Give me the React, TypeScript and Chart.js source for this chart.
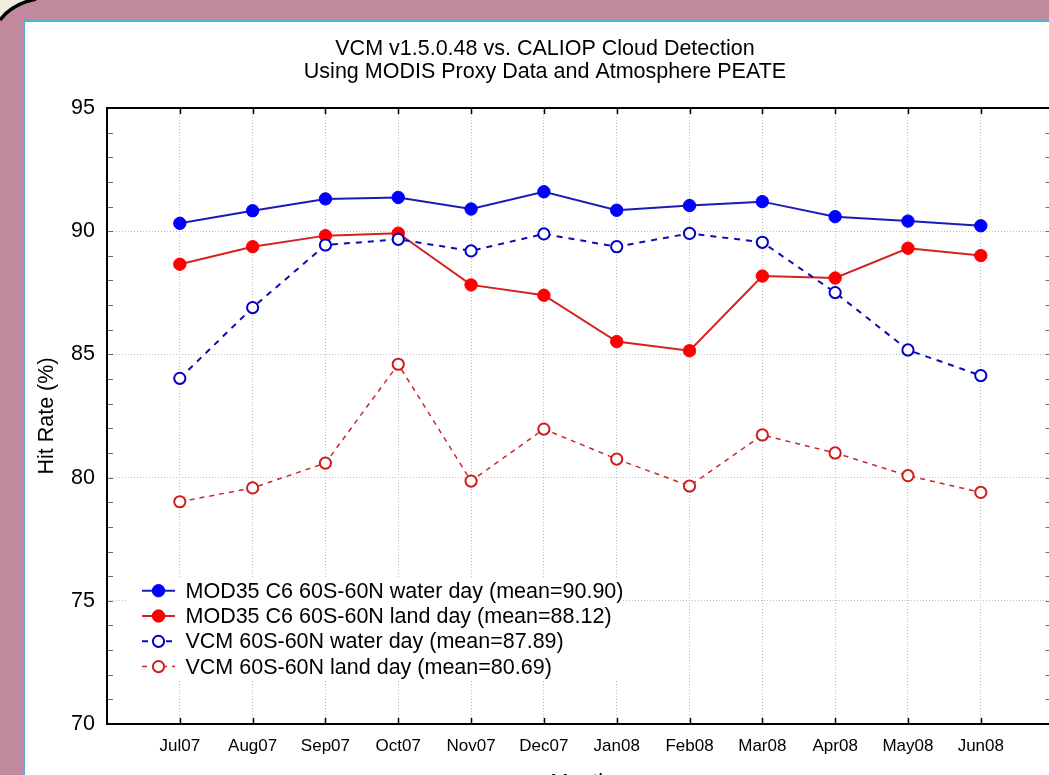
import React, { useEffect, useRef } from "react";
import { Chart, registerables } from "chart.js";

Chart.register(...registerables);

const months = ["Jul07", "Aug07", "Sep07", "Oct07", "Nov07", "Dec07", "Jan08", "Feb08", "Mar08", "Apr08", "May08", "Jun08"];
const mod35Water = [90.32, 90.83, 91.31, 91.37, 90.9, 91.6, 90.85, 91.04, 91.2, 90.59, 90.41, 90.22];
const mod35Land = [88.66, 89.37, 89.82, 89.92, 87.82, 87.4, 85.52, 85.15, 88.18, 88.1, 89.31, 89.01];
const vcmWater = [84.03, 86.9, 89.44, 89.67, 89.2, 89.89, 89.37, 89.91, 89.55, 87.51, 85.18, 84.14];
const vcmLand = [79.02, 79.58, 80.59, 84.6, 79.86, 81.97, 80.75, 79.66, 81.73, 81.0, 80.08, 79.4];
const seriesNames = [
  "MOD35 C6 60S-60N water day (mean=90.90)",
  "MOD35 C6 60S-60N land day (mean=88.12)",
  "VCM 60S-60N water day (mean=87.89)",
  "VCM 60S-60N land day (mean=80.69)",
];
const yTicks = [70, 75, 80, 85, 90, 95];
const titleLines = ["VCM v1.5.0.48 vs. CALIOP Cloud Detection", "Using MODIS Proxy Data and Atmosphere PEATE"];
const xTitle = "Month";
const yTitle = "Hit Rate (%)";

const FONT = "'Liberation Sans', Arial, sans-serif";

const toPoints = (vals: number[]) => vals.map((v, i) => ({ x: i, y: v }));

const framePlugin = {
  id: "frameTicks",
  beforeDatasetsDraw(chart: any) {
    const { ctx, chartArea: a, scales } = chart;
    const x = scales.x;
    const y = scales.y;
    ctx.save();
    ctx.strokeStyle = "#000";
    ctx.lineWidth = 1.5;
    months.forEach((_, i) => {
      const px = Math.round(x.getPixelForValue(i)) + 0.5;
      ctx.beginPath();
      ctx.moveTo(px, a.top);
      ctx.lineTo(px, a.top + 6);
      ctx.moveTo(px, a.bottom);
      ctx.lineTo(px, a.bottom - 6);
      ctx.stroke();
    });
    ctx.strokeStyle = "#6a6a6a";
    ctx.lineWidth = 1;
    const lo = yTicks[0];
    const hi = yTicks[yTicks.length - 1];
    for (let v = lo + 1; v < hi; v++) {
      const py = Math.round(y.getPixelForValue(v)) + 0.5;
      ctx.beginPath();
      ctx.moveTo(a.left, py);
      ctx.lineTo(a.left + 6, py);
      ctx.moveTo(a.right - 8, py);
      ctx.lineTo(a.right, py);
      ctx.stroke();
    }
    ctx.restore();
  },
  afterDatasetsDraw(chart: any) {
    const { ctx, chartArea: a } = chart;
    ctx.save();
    const lx = a.left + 21;
    const ly = a.top + 469;
    ctx.fillStyle = "#fff";
    ctx.fillRect(lx, ly, 495, 104);
    const row0 = a.top + 482.7;
    const rowH = 25.3;
    chart.data.datasets.forEach((ds: any, i: number) => {
      const cy = row0 + i * rowH;
      const x0 = a.left + 35;
      const x1 = a.left + 68;
      const mx = a.left + 51.5;
      ctx.save();
      ctx.strokeStyle = ds.borderColor;
      ctx.lineWidth = ds.borderWidth;
      ctx.setLineDash(ds.borderDash || []);
      ctx.beginPath();
      ctx.moveTo(x0, cy);
      ctx.lineTo(x1, cy);
      ctx.stroke();
      ctx.setLineDash([]);
      ctx.beginPath();
      ctx.arc(mx, cy, ds.pointRadius, 0, Math.PI * 2);
      ctx.fillStyle = ds.pointBackgroundColor;
      ctx.fill();
      ctx.lineWidth = ds.pointBorderWidth;
      ctx.strokeStyle = ds.pointBorderColor;
      ctx.stroke();
      ctx.restore();
      ctx.fillStyle = "#000";
      ctx.font = `21.5px ${FONT}`;
      ctx.textAlign = "left";
      ctx.textBaseline = "middle";
      ctx.fillText(seriesNames[i], a.left + 78.5, cy + 1);
    });
    ctx.restore();
  },
  afterDraw(chart: any) {
    const { ctx, chartArea: a } = chart;
    ctx.save();
    ctx.strokeStyle = "#000";
    ctx.lineWidth = 2;
    ctx.strokeRect(a.left, a.top, a.right - a.left, a.bottom - a.top);
    ctx.restore();
  },
};

export default function App() {
  const ref = useRef<HTMLCanvasElement | null>(null);

  useEffect(() => {
    if (!ref.current) return;
    const chart = new Chart(ref.current, {
      type: "line",
      data: {
        datasets: [
          {
            label: seriesNames[0],
            data: toPoints(mod35Water),
            borderColor: "#1c1cb4",
            borderWidth: 2,
            pointRadius: 6.2,
            pointBackgroundColor: "#0000ff",
            pointBorderColor: "#0000ff",
            pointBorderWidth: 1,
            order: 2,
          },
          {
            label: seriesNames[1],
            data: toPoints(mod35Land),
            borderColor: "#d42222",
            borderWidth: 2,
            pointRadius: 6.2,
            pointBackgroundColor: "#ff0000",
            pointBorderColor: "#ff0000",
            pointBorderWidth: 1,
            order: 2,
          },
          {
            label: seriesNames[2],
            data: toPoints(vcmWater),
            borderColor: "#0c0cb0",
            borderWidth: 2,
            borderDash: [6, 6],
            pointRadius: 5.6,
            pointBackgroundColor: "#ffffff",
            pointBorderColor: "#0000c8",
            pointBorderWidth: 2,
            order: 1,
          },
          {
            label: seriesNames[3],
            data: toPoints(vcmLand),
            borderColor: "#c82a2a",
            borderWidth: 1.5,
            borderDash: [5, 5],
            pointRadius: 5.6,
            pointBackgroundColor: "#ffffff",
            pointBorderColor: "#d01c1c",
            pointBorderWidth: 2,
            order: 1,
          },
        ] as any,
      },
      options: {
        animation: false,
        responsive: false,
        devicePixelRatio: 1,
        layout: { padding: { top: 10, left: 36.4, right: 16.4, bottom: 0 } },
        plugins: {
          legend: { display: false },
          tooltip: { enabled: false },
          title: {
            display: true,
            text: titleLines,
            color: "#000",
            font: { family: FONT, size: 21.5, weight: "normal", lineHeight: "23.3px" },
            padding: { top: 27.5, bottom: 23.9 },
          },
        },
        scales: {
          x: {
            type: "linear",
            min: -1,
            max: months.length,
            afterFit: (s: any) => {
              s.height = 76;
            },
            ticks: {
              stepSize: 1,
              autoSkip: false,
              maxRotation: 0,
              padding: 12.5,
              color: "#000",
              font: { family: FONT, size: 17 },
              callback: (v: any) => (months[v as number] !== undefined ? months[v as number] : ""),
            },
            grid: {
              drawTicks: false,
              lineWidth: 1,
              color: (c: any) =>
                c.tick && c.tick.value >= 0 && c.tick.value < months.length ? "#bcbcbc" : "rgba(0,0,0,0)",
            },
            border: { display: false, dash: [1, 2] },
            title: {
              display: true,
              text: xTitle,
              color: "#000",
              font: { family: FONT, size: 21.5, lineHeight: 1.2 },
              padding: { top: 0, bottom: 4 },
            },
          },
          y: {
            type: "linear",
            min: yTicks[0],
            max: yTicks[yTicks.length - 1],
            afterFit: (s: any) => {
              s.width = 70.6;
            },
            afterBuildTicks: (s: any) => {
              s.ticks = yTicks.map((v) => ({ value: v }));
            },
            ticks: {
              padding: 12,
              color: "#000",
              font: { family: FONT, size: 21.5 },
            },
            grid: {
              drawTicks: false,
              lineWidth: 1,
              color: (c: any) =>
                c.tick && c.tick.value > yTicks[0] && c.tick.value < yTicks[yTicks.length - 1]
                  ? "#bcbcbc"
                  : "rgba(0,0,0,0)",
            },
            border: { display: false, dash: [1, 2] },
            title: {
              display: true,
              text: yTitle,
              color: "#000",
              font: { family: FONT, size: 21.5, lineHeight: 1 },
              padding: { top: 0, bottom: 0 },
            },
          },
        },
      } as any,
      plugins: [framePlugin],
    });
    return () => chart.destroy();
  }, []);

  return (
    <div
      style={{
        position: "fixed",
        left: 0,
        top: 0,
        width: 1049,
        height: 775,
        overflow: "hidden",
        background: "#c1899d",
      }}
    >
      <svg width={60} height={40} style={{ position: "absolute", left: 0, top: 0 }}>
        <path d="M0,0 L36,0 Q12,4 0,20 Z" fill="#eeede0" />
        <path d="M36,-1 Q12,4 0,20" fill="none" stroke="#000" strokeWidth={3.5} />
      </svg>
      <div
        style={{
          position: "absolute",
          left: 23,
          top: 20,
          width: 1100,
          height: 900,
          border: "2px solid #52b1d2",
          background: "#fff",
        }}
      />
      <canvas
        ref={ref}
        width={1070}
        height={800}
        style={{ position: "absolute", left: 0, top: 0, width: 1070, height: 800 }}
      />
    </div>
  );
}
